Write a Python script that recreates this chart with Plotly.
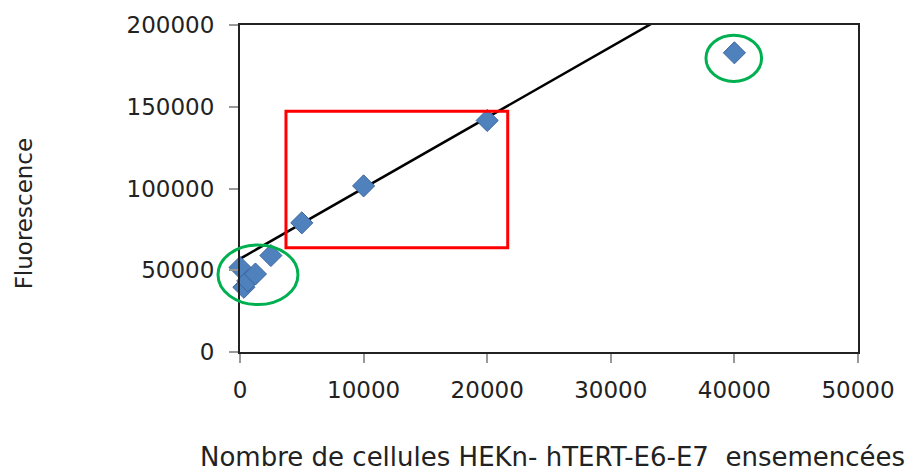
import plotly.graph_objects as go

# ---- data ----
cells = [0, 312, 625, 1250, 2500, 5000, 10000, 20000, 40000]
fluorescence = [51700, 39600, 43500, 47700, 59000, 79000, 101600, 141600, 183000]

trend_intercept = 57000
trend_slope = 4.32
trend_x = [0, 50000]
trend_y = [trend_intercept + trend_slope * v for v in trend_x]

x_ticks = [0, 10000, 20000, 30000, 40000, 50000]
y_ticks = [0, 50000, 100000, 150000, 200000]

x_title = "Nombre de cellules HEKn- hTERT-E6-E7  ensemencées"
y_title = "Fluorescence"

# highlight regions (data coordinates)
red_box = (3720, 63800, 21660, 147300)
green_low = (-1780, 29000, 4690, 65500)
green_high = (37700, 165500, 42200, 193800)

X_RANGE = (0, 50000)
Y_RANGE = (0, 200000)


def px(v):
    return (v - X_RANGE[0]) / (X_RANGE[1] - X_RANGE[0])


def py(v):
    return (v - Y_RANGE[0]) / (Y_RANGE[1] - Y_RANGE[0])


FONT = "DejaVu Sans"
TXT = "#222222"

fig = go.Figure()
fig.add_trace(go.Scatter(
    x=trend_x, y=trend_y, mode="lines",
    line=dict(color="black", width=2.5),
    showlegend=False, hoverinfo="skip",
))
fig.add_trace(go.Scatter(
    x=cells, y=fluorescence, mode="markers", cliponaxis=False,
    marker=dict(symbol="diamond", size=17, color="#4F81BD",
                line=dict(color="#3A64A0", width=1)),
    showlegend=False,
))

shapes = []
x0, y0, x1, y1 = red_box
shapes.append(dict(type="rect", xref="paper", yref="paper",
                   x0=px(x0), y0=py(y0), x1=px(x1), y1=py(y1),
                   line=dict(color="#FF0000", width=3)))
for (a0, b0, a1, b1) in (green_low, green_high):
    shapes.append(dict(type="circle", xref="paper", yref="paper",
                       x0=px(a0), y0=py(b0), x1=px(a1), y1=py(b1),
                       line=dict(color="#00B050", width=3)))

fig.update_layout(
    width=908, height=471,
    margin=dict(l=240, r=50, t=22, b=119),
    paper_bgcolor="white", plot_bgcolor="white",
    font=dict(family=FONT, size=23, color=TXT),
    shapes=shapes,
    annotations=[
        dict(text=x_title, xref="paper", yref="paper", x=0.505, y=-0.321,
             xanchor="center", yanchor="middle", showarrow=False,
             font=dict(family=FONT, size=26, color=TXT)),
        dict(text=y_title, xref="paper", yref="paper", x=-0.3495, y=0.424,
             xanchor="center", yanchor="middle", showarrow=False, textangle=-90,
             font=dict(family=FONT, size=23, color=TXT)),
    ],
)
fig.update_xaxes(
    range=list(X_RANGE), tickvals=x_ticks, ticktext=[str(v) for v in x_ticks],
    showgrid=False, zeroline=False,
    showline=True, linecolor="#222222", linewidth=2, mirror=True,
    ticks="outside", ticklen=9, tickwidth=2, tickcolor="#999999",
    ticklabelstandoff=7,
    tickfont=dict(family=FONT, size=23, color=TXT),
)
fig.update_yaxes(
    range=list(Y_RANGE), tickvals=y_ticks, ticktext=[str(v) for v in y_ticks],
    showgrid=False, zeroline=False,
    showline=True, linecolor="#222222", linewidth=2, mirror=True,
    ticks="outside", ticklen=9, tickwidth=2, tickcolor="#999999",
    ticklabelstandoff=10,
    tickfont=dict(family=FONT, size=23, color=TXT),
)

fig.write_html("out.html", config={"displayModeBar": False},
               post_script="document.body.style.margin='0';document.body.style.overflow='hidden';")
